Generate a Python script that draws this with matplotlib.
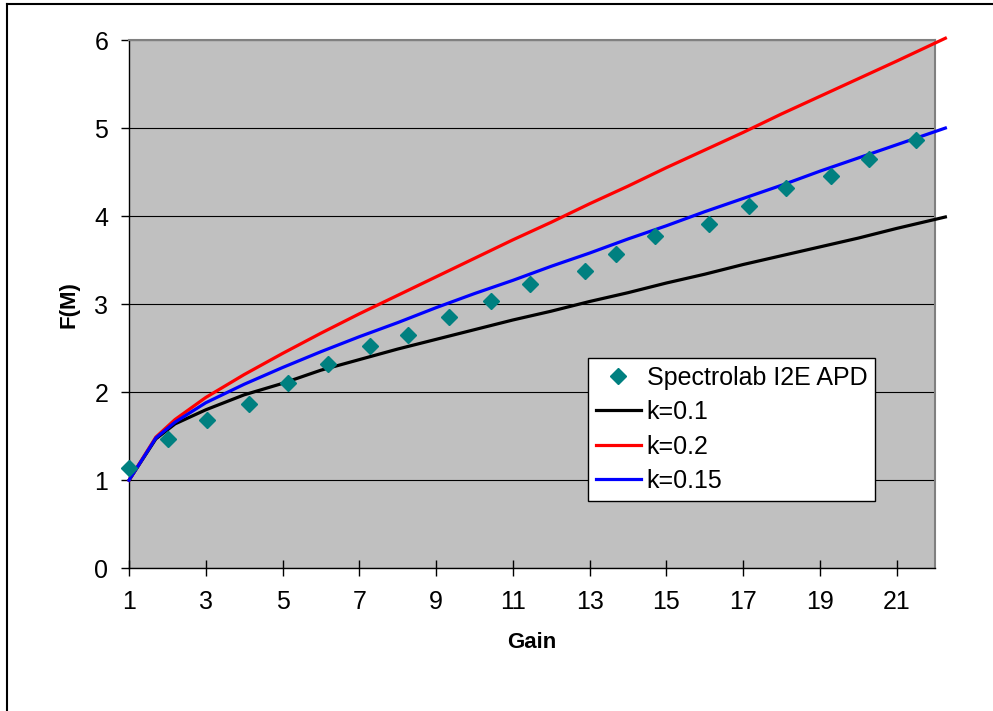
import matplotlib
matplotlib.use('Agg')
import matplotlib.pyplot as plt
from matplotlib.lines import Line2D

# ---------- Style ----------
BG_GRAY   = '#c0c0c0'
EDGE_GRAY = '#808080'
TEAL      = '#008080'
FONT      = 18

plt.rcParams.update({
    'font.family': ['Liberation Sans', 'DejaVu Sans'],
    'font.size': FONT,
})

# ---------- Data ----------
# measured excess noise factor (read off the chart)
gain_meas = [1.00, 2.02, 3.02, 4.13, 5.13, 6.19, 7.28, 8.27, 9.34, 10.44,
             11.45, 12.89, 13.68, 14.71, 16.10, 17.16, 18.12, 19.29, 20.29, 21.51]
F_meas = [1.14, 1.47, 1.68, 1.87, 2.11, 2.32, 2.53, 2.65, 2.85, 3.04,
          3.23, 3.38, 3.57, 3.77, 3.91, 4.12, 4.32, 4.45, 4.65, 4.86]

# model curves
gain_k = [1, 1.7, 2.2, 3, 4, 5, 6, 7, 8, 9, 10, 11, 12, 13, 14, 15,
          16, 17, 18, 19, 20, 21, 22.27]
F_k010 = [1.00, 1.47, 1.64, 1.80, 1.97, 2.10, 2.25, 2.37, 2.49, 2.60, 2.71, 2.82,
          2.92, 3.03, 3.13, 3.24, 3.34, 3.45, 3.55, 3.65, 3.75, 3.86, 3.99]
F_k020 = [1.00, 1.49, 1.69, 1.94, 2.20, 2.44, 2.67, 2.89, 3.10, 3.31, 3.52, 3.73,
          3.93, 4.14, 4.34, 4.55, 4.75, 4.95, 5.16, 5.36, 5.56, 5.76, 6.02]
F_k015 = [1.00, 1.48, 1.66, 1.88, 2.09, 2.28, 2.46, 2.63, 2.79, 2.96, 3.12, 3.27,
          3.43, 3.58, 3.74, 3.89, 4.05, 4.20, 4.35, 4.51, 4.66, 4.81, 5.00]

xticks = list(range(1, 22, 2))
yticks = list(range(0, 7))

# ---------- Figure ----------
fig = plt.figure(figsize=(9.93, 7.11), dpi=100)
ax = fig.add_axes([129 / 993, 1 - 568.3 / 711, 806 / 993, 528.3 / 711])
ax.set_facecolor(BG_GRAY)

ax.plot(gain_meas, F_meas, 'D', color=TEAL, markersize=8, zorder=4,
        clip_on=False, label='Spectrolab I2E APD')
ax.plot(gain_k, F_k010, '-', color='black', lw=2.3, zorder=3,
        clip_on=False, label='k=0.1')
ax.plot(gain_k, F_k020, '-', color='#ff0000', lw=2.3, zorder=3,
        clip_on=False, label='k=0.2')
ax.plot(gain_k, F_k015, '-', color='#0000ff', lw=2.3, zorder=3,
        clip_on=False, label='k=0.15')

# ---------- axes ----------
ax.set_xlim(1, 22)
ax.set_ylim(0, 6)
ax.set_xticks(xticks)
ax.set_yticks(yticks)
ax.tick_params(axis='x', direction='inout', length=11, width=1, pad=10)
ax.tick_params(axis='y', direction='out', length=6, width=1, pad=9)
ax.yaxis.grid(True, color='black', lw=0.8)
ax.set_axisbelow(True)

for side in ['left', 'bottom']:
    ax.spines[side].set_color('black')
    ax.spines[side].set_linewidth(1)
for side in ['top', 'right']:
    ax.spines[side].set_color(EDGE_GRAY)
    ax.spines[side].set_linewidth(1.5)

ax.set_xlabel('Gain', fontsize=16, fontweight='bold')
ax.set_ylabel('F(M)', fontsize=16, fontweight='bold')
ax.xaxis.set_label_coords(0.5, -0.12)
ax.yaxis.set_label_coords(-0.062, 0.5)

# ---------- legend ----------
leg = ax.legend(loc='upper left', bbox_to_anchor=(0.5695, 0.398),
                borderaxespad=0, fontsize=FONT, fancybox=False,
                framealpha=1, edgecolor='black', borderpad=0.3,
                labelspacing=0.42, handlelength=1.8, handletextpad=0.25)
leg.get_frame().set_linewidth(1)

# ---------- chart frame ----------
fx = 7 / 993
fy = 1 - 4 / 711
fig.add_artist(Line2D([fx, fx], [0, fy], transform=fig.transFigure,
                      color='black', lw=1.5))
fig.add_artist(Line2D([fx, 1], [fy, fy], transform=fig.transFigure,
                      color='black', lw=1.5))

fig.savefig('out.png', dpi=100)
